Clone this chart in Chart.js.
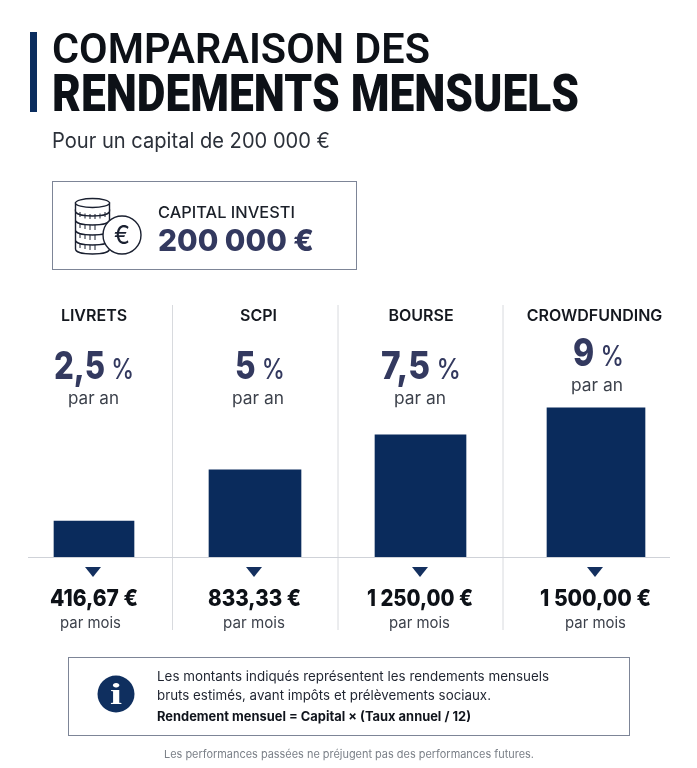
<!DOCTYPE html>
<html lang="fr">
<head>
<meta charset="utf-8">
<title>Comparaison des rendements mensuels</title>
<script src="https://cdn.jsdelivr.net/npm/chart.js@4"></script>
<style>
html,body{margin:0;padding:0;background:#fff;}
#page{position:relative;width:697px;height:768px;overflow:hidden;background:#fff;}
#chart{position:absolute;left:0;top:0;}
.t{position:absolute;white-space:pre;transform-origin:left center;line-height:1;font-family:Inter,sans-serif;}
.box{position:absolute;box-sizing:border-box;border:1.5px solid #7d8597;background:#fff;}
.rule{position:absolute;}
svg{position:absolute;}
</style>
</head>
<body>
<div id="page">
  <div class="rule" style="left:30px;top:32px;width:7px;height:80px;background:#0b2d5e"></div>
  <div class="box" style="left:52px;top:181px;width:305px;height:89px"></div>
  <div class="box" style="left:68px;top:657px;width:562px;height:79px"></div>
  <div style="position:absolute;left:0;top:0;width:697px;height:768px"><canvas id="chart" width="697" height="768"></canvas></div>
  <svg id="coins" style="left:72px;top:195px" width="74" height="62" viewBox="0 0 74 62" fill="#fff" stroke="#1a2030" stroke-width="1.4">
    <path d="M3.500 46v8c0 3 7 5 17 5s17-2 17-5v-8z"/><path d="M3.500 36v9c0 3 7 5 17 5s17-2 17-5v-9z"/>
    <path d="M3.500 26v9c0 3 7 5 17 5s17-2 17-5v-9z"/><path d="M3.500 15v10c0 3 7 5 17 5s17-2 17-5V15z"/>
    <path d="M3.500 8v8c0 3 7 5 17 5s17-2 17-5V8z"/><ellipse cx="20.500" cy="8" rx="17" ry="4.500"/>
    <path stroke-width="1" d="M8 17v5M13 18.500v5M18 19v5M23 19v5M28 18.500v5M33 17v5M8 28v5M13 29v5M18 30v5M23 30v5M8 38v5M13 39v5M18 40v5M23 40v5M8 48v5M13 49v5M18 50v5M23 50v5"/>
    <circle cx="50" cy="40" r="19"/>
  </svg>
  <svg style="left:96px;top:674px" width="40" height="40" viewBox="0 0 40 40"><circle cx="20" cy="20" r="18.500" fill="#0f2f5f"/></svg>
</div>
<script>
const categories = ["LIVRETS", "SCPI", "BOURSE", "CROWDFUNDING"];
const barValues = [362, 876, 1228, 1500];
const annualRates = ["2,5", "5", "7,5", "9"];
const monthlyAmounts = ["416,67 €", "833,33 €", "1 250,00 €", "1 500,00 €"];

const NAVY = "#0a2b5c", INK = "#0d1117", SLATE = "#33395f", GREY = "#3c414b";
const page = document.getElementById("page");

// Places real text between two x limits, squeezing it horizontally to the measured span.
function put(html, x0, x1, yc, css) {
  const el = document.createElement("div");
  el.className = "t";
  el.innerHTML = html;
  el.style.cssText = "left:" + x0 + "px;top:" + yc + "px;" + css;
  page.appendChild(el);
  const w = el.getBoundingClientRect().width;
  el.style.transform = "translateY(-50%) scaleX(" + ((x1 - x0) / w) + ")";
}

put("COMPARAISON DES", 52, 430, 48, "font:600 42px Roboto;color:" + INK);
put("RENDEMENTS MENSUELS", 52, 579, 93, "font:900 52px Roboto;color:" + INK);
put("Pour un capital de 200 000 €", 52, 330, 140, "font:400 21px Inter;color:#2c313a");
put("CAPITAL INVESTI", 158, 295, 212, "font:500 16px Inter;color:#1b2029");
put("200 000 €", 158, 314, 240, "font:800 30px Inter;color:" + SLATE);
put("€", 114, 130, 235, "font:400 25px Inter;color:#1a2030");

const rateX = [[54, 134], [235, 285], [381, 461], [573, 624]];
const rateY = [365, 365, 365, 352];
const anX = [[68, 119], [232, 284], [394, 446], [571, 623]];
const anY = [398, 398, 398, 385];
const valX = [[50, 138], [208, 301], [367, 473], [540, 651]];
const moisX = [[60, 121], [223, 285], [389, 450], [565, 626]];
categories.forEach((c, i) => {
  put('<span style="font:800 38px Inter;color:' + SLATE + '">' + annualRates[i] +
      '</span><span style="font:500 28px Inter;color:' + SLATE + '"> %</span>',
      rateX[i][0], rateX[i][1], rateY[i], "");
  put("par an", anX[i][0], anX[i][1], anY[i], "font:400 17px Inter;color:" + GREY);
  put(monthlyAmounts[i], valX[i][0], valX[i][1], 598, "font:800 23px Inter;color:" + INK);
  put("par mois", moisX[i][0], moisX[i][1], 622, "font:400 15px Inter;color:" + GREY);
});

put("i", 110, 122, 694, "font:700 30px 'Liberation Serif';color:#fff");
put("Les montants indiqués représentent les rendements mensuels", 157, 549, 676, "font:400 13px Inter;color:#1f2430");
put("bruts estimés, avant impôts et prélèvements sociaux.", 157, 491, 695, "font:400 13px Inter;color:#1f2430");
put("Rendement mensuel = Capital × (Taux annuel / 12)", 157, 471, 716, "font:700 13px Inter;color:#10141c");
put("Les performances passées ne préjugent pas des performances futures.", 164, 534, 754, "font:400 11px Inter;color:#7b8088");

// Column layout of the picture: the four columns are not evenly spaced.
const columnCentres = [94, 255, 420.5, 596];
const labelCentres = [94, 258.5, 421, 594.5];
const barThicknesses = [80, 92, 91, 98];
const columnRules = [172.5, 338, 503];
const arrowCentres = [93, 254, 420, 595];

class ColumnScale extends Chart.CategoryScale {
  getPixelForValue(value, index) {
    const i = typeof value === "number" ? value : index;
    return columnCentres[i] ?? super.getPixelForValue(value, index);
  }
  getPixelForTick(index) {
    return labelCentres[index];
  }
}
ColumnScale.id = "columns";
ColumnScale.defaults = Chart.CategoryScale.defaults;
Chart.register(ColumnScale);

const decorations = {
  id: "decorations",
  beforeDatasetsDraw(chart) {
    const ctx = chart.ctx, base = chart.scales.y.getPixelForValue(0);
    ctx.save();
    ctx.strokeStyle = "#d8dade";
    ctx.lineWidth = 1;
    columnRules.forEach(x => {
      ctx.beginPath(); ctx.moveTo(x, 305); ctx.lineTo(x, 630); ctx.stroke();
    });
    ctx.strokeStyle = "#cfd2d8";
    ctx.beginPath(); ctx.moveTo(28, base + 0.5); ctx.lineTo(670, base + 0.5); ctx.stroke();
    ctx.fillStyle = "#14305f";
    arrowCentres.forEach(x => {
      ctx.beginPath();
      ctx.moveTo(x - 8, base + 10); ctx.lineTo(x + 8, base + 10); ctx.lineTo(x, base + 20);
      ctx.closePath(); ctx.fill();
    });
    ctx.restore();
  }
};

new Chart(document.getElementById("chart"), {
  type: "bar",
  plugins: [decorations],
  data: {
    labels: categories,
    datasets: categories.map((c, i) => ({
      label: c,
      data: categories.map((_, j) => (j === i ? barValues[i] : null)),
      backgroundColor: NAVY,
      barThickness: barThicknesses[i]
    }))
  },
  options: {
    responsive: false,
    animation: false,
    layout: { padding: { top: 306, bottom: 211, left: 0, right: 0 } },
    plugins: { legend: { display: false }, tooltip: { enabled: false } },
    scales: {
      x: {
        type: "columns",
        position: "top",
        stacked: true,
        afterFit(scale) { scale.height = 52; },
        grid: { display: false, drawTicks: false },
        border: { display: false },
        ticks: { color: "#14181f", padding: 32, maxRotation: 0, autoSkip: false, font: { family: "Inter", size: 16, weight: "600" } }
      },
      y: { display: false, stacked: true, min: 0, max: 2000 }
    }
  }
});
</script>
</body>
</html>
